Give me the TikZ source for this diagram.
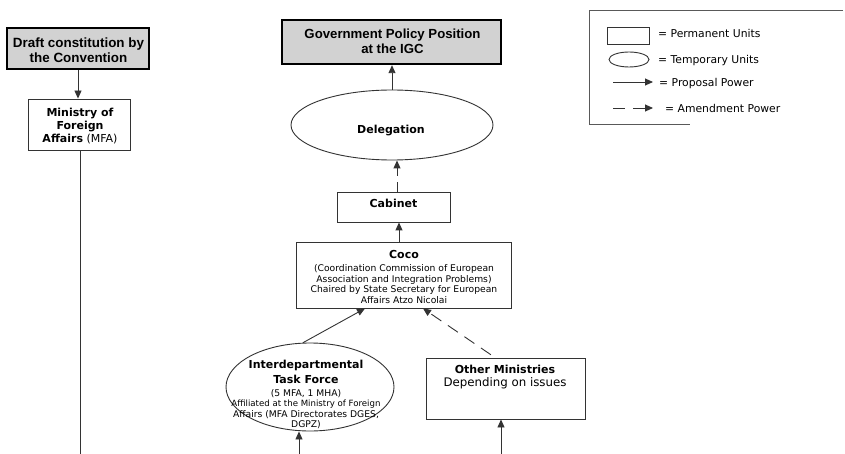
\documentclass[tikz,border=0pt]{standalone}
\usepackage{fontspec}
\setmainfont{DejaVu Sans}
\newfontfamily\arialfam{Liberation Sans}
\usetikzlibrary{arrows.meta,shapes.geometric}
\newcommand\fsmall{\fontsize{9.2}{10.6}\selectfont}
\newcommand\fhead{\fontsize{11}{13.3}\selectfont\bfseries}
\begin{document}
\begin{tikzpicture}[x=1pt,y=-1pt,
  perm/.style={draw=black!80, line width=0.9pt, inner sep=0pt, rectangle},
  temp/.style={draw=black!80, line width=0.9pt, inner sep=0pt, ellipse},
  outcome/.style={draw=black, line width=2.4pt, fill=gray!35, inner sep=0pt, rectangle},
  txt/.style={align=center, inner sep=0pt},
  lgtxt/.style={anchor=base west, inner sep=0pt, font=\fontsize{10.8}{13}\selectfont},
  conn/.style={draw=black!80, line width=0.9pt, -{Triangle[length=8pt,width=7pt]}},
  amend/.style={conn, dash pattern=on 12pt off 8pt},
  plain/.style={draw=black!80, line width=0.9pt},
]
\useasboundingbox (0,0) rectangle (845,454);

% shapes
\node[outcome, minimum width=142pt, minimum height=41pt] (draft) at (78,48.5) {};
\node[outcome, minimum width=219pt, minimum height=44pt] (gov) at (391.5,42) {};
\node[perm, minimum width=102pt, minimum height=51pt] (mfa) at (79,124.5) {};
\node[temp, minimum width=202pt, minimum height=70pt] (deleg) at (392,125) {};
\node[perm, minimum width=113pt, minimum height=30pt] (cabinet) at (393.5,207) {};
\node[perm, minimum width=215pt, minimum height=66pt] (coco) at (403.5,275) {};
\node[temp, minimum width=168pt, minimum height=88pt] (itf) at (310,387) {};
\node[perm, minimum width=159pt, minimum height=61pt] (om) at (505.5,388.5) {};

% texts
\node[txt, font=\fontsize{13.4}{14.5}\selectfont\arialfam\bfseries] (draftT) at (78.5,50) {Draft constitution by\\the Convention};
\node[txt, font=\fontsize{13.2}{15}\selectfont\arialfam\bfseries] (govT) at (392.5,41) {Government Policy Position\\at the IGC};
\node[txt, font=\fontsize{11}{13.3}\selectfont] (mfaT) at (80,126) {\textbf{Ministry of}\\\textbf{Foreign}\\\textbf{Affairs} (MFA)};
\node[txt, font=\fhead] (delegT) at (391,131) {Delegation};
\node[txt, font=\fhead] (cabinetT) at (393.5,203) {Cabinet};
\node[txt, font=\fsmall] (cocoT) at (404,277) {{\fhead Coco}\\[2.4pt](Coordination Commission of European\\Association and Integration Problems)\\Chaired by State Secretary for European\\Affairs Atzo Nicolai};
\node[txt, font=\fsmall] (itfT) at (306,394.5) {{\fhead Interdepartmental}\\[3.4pt]{\fhead Task Force}\\[2.4pt](5 MFA, 1 MHA)\\{\fontsize{8.6}{10.6}\selectfont Affiliated at the Ministry of Foreign}\\Affairs (MFA Directorates DGES,\\DGPZ)};
\node[txt, font=\fontsize{11.8}{13}\selectfont] (omT) at (505,377) {{\fhead Other Ministries}\\Depending on issues};

% connectors
\coordinate (xa) at (397,0);
\coordinate (xb) at (399,0);
\coordinate (xc) at (365,0);
\coordinate (xd) at (423,0);
\coordinate (xe) at (495,0);
\coordinate (mfaEnd) at (80,454);
\coordinate (itfB) at (299,454);
\coordinate (omB) at (501,454);

\draw[conn] (draft.south) -- (draft.south |- mfa.north);
\draw[plain] (mfa.south -| mfaEnd) -- (mfaEnd);
\draw[conn] (deleg.north) -- (deleg.north |- gov.south);
\draw[amend, dash pattern=on 10pt off 6pt] (cabinet.north -| xa) -- (deleg.south -| xa);
\draw[conn] (coco.north -| xb) -- (cabinet.south -| xb);
\draw[conn] (itf.99) -- (coco.south -| xc);
\draw[amend, dash phase=15pt] (om.north -| xe) -- (coco.south -| xd);
\draw[conn] (itfB) -- (itfB |- itf.south);
\draw[conn] (omB) -- (omB |- om.south);

% legend (frame cut off on the right, as in the scan)
\draw[draw=black!65, line width=0.8pt] (843,10) -- (589,10) -- (589,124) -- (690,124);
\node[perm, minimum width=42pt, minimum height=17pt] (lgR) at (628,35.5) {};
\node[temp, minimum width=40pt, minimum height=15pt] (lgE) at (629,59.5) {};
\coordinate (lgA1) at (613,82);
\coordinate (lgA2) at (653,82);
\coordinate (lgB1) at (613,108);
\coordinate (lgB2) at (653,108);
\draw[conn] (lgA1) -- (lgA2);
\draw[amend] (lgB1) -- (lgB2);
\node[lgtxt] (lgT1) at (658,38) {= Permanent Units};
\node[lgtxt] (lgT2) at (658,64) {= Temporary Units};
\node[lgtxt] (lgT3) at (659,87) {= Proposal Power};
\node[lgtxt] (lgT4) at (665,113) {= Amendment Power};
\end{tikzpicture}
\end{document}
